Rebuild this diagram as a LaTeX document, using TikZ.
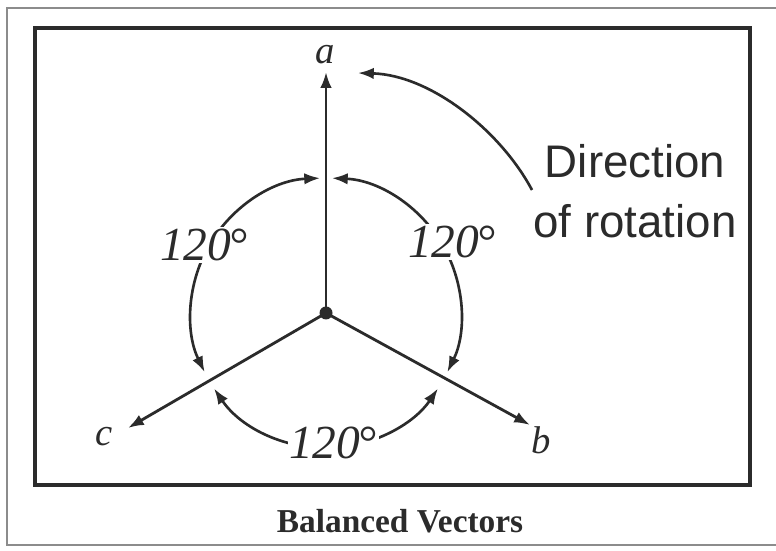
\documentclass[tikz,border=0pt]{standalone}
\usepackage{fontspec}
\setmainfont{Liberation Serif}
\newfontfamily\rotfont{Liberation Sans}
\usetikzlibrary{arrows.meta}
\definecolor{inkGray}{HTML}{2B2B2B}
\definecolor{frameGray}{HTML}{8C8C8C}

\begin{document}
\begin{tikzpicture}[x=0.02cm,y=0.02cm,>={Latex[length=9pt,width=6.5pt]},
  vec/.style={inkGray,line width=1.6pt,->},
  rot/.style={inkGray,line width=1.5pt,<->},
  deg/.style={fill=white,inner sep=1pt,text=inkGray,font=\fontsize{27}{30}\selectfont\itshape},
  tiplabel/.style={text=inkGray,font=\fontsize{22}{26}\selectfont\itshape}]
\useasboundingbox (0,0) rectangle (776,550);
\fill[white] (0,0) rectangle (776,550);
\draw[frameGray,line width=0.6pt] (776,542) -- (7,542) -- (7,5) -- (776,5);
\draw[inkGray,line width=2pt] (35,65) rectangle (750,522);
\def\r{135}
\coordinate (O) at (326,237);
\coordinate (A) at (326,478);
\coordinate (B) at (530,125);
\coordinate (C) at (128,122);
\draw[vec] (O) -- (A);
\draw[vec] (O) -- (B);
\draw[vec] (O) -- (C);
\fill[inkGray] (O) circle (6.5);
\draw[rot] ([shift={(92.5:\r)}]O) arc[start angle=92.5,end angle=206,radius=\r];
\draw[rot] ([shift={(87.5:\r)}]O) arc[start angle=87.5,end angle=-26,radius=\r];
\draw[rot] ([shift={(214:\r)}]O) arc[start angle=214,end angle=326,radius=\r];
\node[tiplabel] (la) at (325,495) {a};
\node[tiplabel] (lb) at (541,110) {b};
\node[tiplabel] (lc) at (104,113) {c};
\node[deg] (degl) at (204,305) {120\kern-1.5pt°};
\node[deg] (degr) at (452,308) {120\kern-1.5pt°};
\node[deg] (degb) at (333,107) {120\kern-1.5pt°};
\node[text=inkGray,align=center,font=\rotfont\fontsize{26}{34}\selectfont] (dir) at (635,359) {Direction\\of rotation};
\coordinate (rotstart) at (532,360);
\coordinate (rotend) at (358,477);
\draw[inkGray,line width=1.5pt,->] (rotstart) .. controls (500,420) and (430,475) .. (rotend);
\node[text=inkGray,font=\bfseries\fontsize{19}{23}\selectfont] (cap) at (400,29) {Balanced Vectors};
\end{tikzpicture}
\end{document}
